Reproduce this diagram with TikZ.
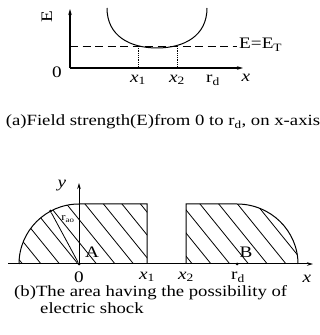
\documentclass[tikz,border=0pt]{standalone}
\usepackage{fontspec}
\setmainfont{Liberation Serif}[FakeStretch=1.2]
\usetikzlibrary{arrows.meta}
\begin{document}
\begin{tikzpicture}[x=1pt,y=1pt,
  axis/.style={line width=1pt,-{Stealth[length=6pt,width=3.5pt]}},
  curve/.style={line width=1pt},
  lbl/.style={font=\fontsize{16}{18}\selectfont, inner sep=0pt},
  small/.style={font=\fontsize{10.5}{11}\selectfont, inner sep=0pt},
  captext/.style={font=\fontsize{15.6}{17}\selectfont, inner sep=0pt},
  hatchline/.style={line width=0.8pt},
  dotm/.style={circle,fill,inner sep=0pt,minimum size=3pt}]
\useasboundingbox (0,0) rectangle (320,335);
% ---------- top graph ----------
\coordinate (O1) at (70,267);
\coordinate (Y1) at (70,326);
\coordinate (X1) at (243,267);
\draw[axis,line width=1.3pt] (O1) -- (Y1);
\draw[axis,line width=1.3pt] (O1) -- (X1);
\node[lbl] (zero1) at (57,263) {0};
\node[lbl,rotate=90] (Elab) at (47,318) {E};
\coordinate (D0) at (70,289);
\coordinate (D1) at (237,289);
\draw[dash pattern=on 8pt off 4.5pt, line width=0.9pt] (D0) -- (D1);
\node[lbl,anchor=west] (ET) at (239,290) {E=E\textsubscript{T}};
\coordinate (C0) at (107,327);
\coordinate (Cm) at (157,287);
\coordinate (C1) at (207,327);
\draw[curve] (C0) .. controls (107,299) and (130,287) .. (Cm)
             .. controls (184,287) and (207,299) .. (C1);
\coordinate (P1) at (138,289); \coordinate (P1b) at (138,267);
\coordinate (P2) at (177,289); \coordinate (P2b) at (177,267);
\draw[densely dotted, line width=0.8pt] (P1) -- (P1b);
\draw[densely dotted, line width=0.8pt] (P2) -- (P2b);
\node[lbl] (tx1) at (138,255) {\textit{x}\textsubscript{1}};
\node[lbl] (tx2) at (177,255) {\textit{x}\textsubscript{2}};
\node[lbl] (trd) at (213,255) {r\textsubscript{d}};
\node[lbl] (tx) at (246,257) {\textit{x}};
\node[captext] (capa) at (163,213) {(a)Field strength(E)from 0 to r\textsubscript{d}, on x-axis};
% ---------- bottom graph ----------
\begin{scope}
  \clip (19,71) arc[start angle=180,end angle=90,radius=60] -- (147,131) -- (147,71) -- cycle;
  \foreach \k in {-6,...,4} {
    \pgfmathsetmacro{\xa}{85+18.5*\k}
    \draw[hatchline] (\xa-8.1,141) -- (\xa+56.7,61);
  }
\end{scope}
\begin{scope}
  \clip (186,71) -- (186,131) -- (237,131) arc[start angle=90,end angle=0,x radius=61,y radius=60] -- cycle;
  \foreach \k in {-3,...,5} {
    \pgfmathsetmacro{\xa}{200+18.75*\k}
    \draw[hatchline] (\xa-8.1,141) -- (\xa+56.7,61);
  }
\end{scope}
\draw[curve] (19,71) arc[start angle=180,end angle=90,radius=60] -- (147,131) -- (147,71);
\draw[curve] (186,71) -- (186,131) -- (237,131) arc[start angle=90,end angle=0,x radius=61,y radius=60];
\coordinate (O2) at (79,71);
\coordinate (Y2) at (79,152);
\coordinate (XL) at (8,71);
\coordinate (XR) at (313,71);
\draw[axis] (XL) -- (XR);
\draw[axis] (O2) -- (Y2);
\node[dotm] (A) at (79,71) {};
\node[dotm] (B) at (237,71) {};
\node[dotm] (R) at (50.5,123.8) {};
\draw[line width=0.8pt] (A) -- (R);
\node[small] (rao) at (68,116) {r\textsubscript{ao}};
\node[lbl] (Alab) at (92,83) {A};
\node[lbl] (Blab) at (246,83) {B};
\node[lbl] (ty) at (62,149) {\textit{y}};
\node[lbl] (zero2) at (79,58) {0};
\node[lbl] (bx1) at (147,58) {\textit{x}\textsubscript{1}};
\node[lbl] (bx2) at (186,58) {\textit{x}\textsubscript{2}};
\node[lbl] (brd) at (238,58) {r\textsubscript{d}};
\node[lbl] (bx) at (307,56) {\textit{x}};
\node[captext,anchor=west] (capb1) at (14,42) {(b)The area having the possibility of};
\node[captext,anchor=west] (capb2) at (40,27) {electric shock};
\end{tikzpicture}
\end{document}
